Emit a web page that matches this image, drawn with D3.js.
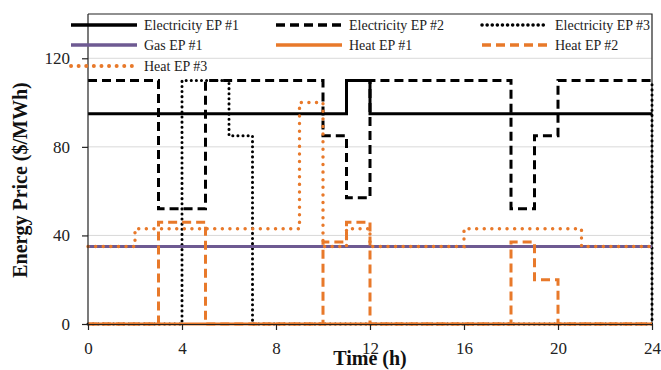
<!DOCTYPE html>
<html>
<head>
<meta charset="utf-8">
<script src="https://cdn.jsdelivr.net/npm/d3@7"></script>
<style>
  html, body { margin: 0; padding: 0; background: #fff; }
  svg { display: block; }
  svg text { font-family: "Liberation Serif", "Times New Roman", serif; }
</style>
</head>
<body>
<svg id="chart" width="661" height="370"></svg>
<script>
// Hourly energy prices ($/MWh); each value holds from its hour to the next one.
const hours = [0,1,2,3,4,5,6,7,8,9,10,11,12,13,14,15,16,17,18,19,20,21,22,23,24];

const electricityEP1 = [95,95,95,95,95,95,95,95,95,95,95,110,95,95,95,95,95,95,95,95,95,95,95,95,95];
const electricityEP2 = [110,110,110,52,52,110,110,110,110,110,85,57,110,110,110,110,110,110,52,85,110,110,110,110,110];
const electricityEP3 = [0,0,0,0,110,110,85,0,0,0,0,0,0,0,0,0,0,0,0,0,0,0,0,0,110];
const gasEP1         = [35,35,35,35,35,35,35,35,35,35,35,35,35,35,35,35,35,35,35,35,35,35,35,35,35];
const heatEP1        = [0,0,0,0,0,0,0,0,0,0,0,0,0,0,0,0,0,0,0,0,0,0,0,0,0];
const heatEP2        = [0,0,0,46,46,0,0,0,0,0,37,46,0,0,0,0,0,0,37,20,0,0,0,0,0];
const heatEP3        = [35,35,43,43,43,43,43,43,43,100,35,43,35,35,35,35,43,43,43,43,43,35,35,35,35];

const seriesNames = ["Electricity EP #1","Electricity EP #2","Electricity EP #3",
                     "Gas EP #1","Heat EP #1","Heat EP #2","Heat EP #3"];
const seriesValues = [electricityEP1, electricityEP2, electricityEP3, gasEP1, heatEP1, heatEP2, heatEP3];

const xTicks = [0,4,8,12,16,20,24];
const yTicks = [0,40,80,120];

const SERIF = "'Liberation Serif', 'Times New Roman', serif";

// Line styling per series
const BLACK = "#000000", ORANGE = "#E8792A", PURPLE = "#6E5A92";
const styles = [
  { color: BLACK,  width: 3,   dash: null,      cap: "butt"  },
  { color: BLACK,  width: 3,   dash: "9,5",     cap: "butt"  },
  { color: BLACK,  width: 3,   dash: "0.1,5",   cap: "round" },
  { color: PURPLE, width: 3,   dash: null,      cap: "butt"  },
  { color: ORANGE, width: 3,   dash: null,      cap: "butt"  },
  { color: ORANGE, width: 3,   dash: "9,5",     cap: "butt"  },
  { color: ORANGE, width: 3.4, dash: "0.1,7.5", cap: "round" }
];

const svg = d3.select("#chart");
const margin = { left: 88, right: 9, top: 14, bottom: 46 };
const W = 661, H = 370;

const x = d3.scaleLinear().domain([0, 24]).range([margin.left, W - margin.right]);
const y = d3.scaleLinear().domain([0, 140]).range([H - margin.bottom, margin.top]);

// Horizontal gridlines
svg.append("g").selectAll("line")
  .data(yTicks.filter(v => v > 0))
  .join("line")
  .attr("x1", x(0)).attr("x2", x(24))
  .attr("y1", d => y(d)).attr("y2", d => y(d))
  .attr("stroke", "#d9d9d9").attr("stroke-width", 1);

// Plot frame (top and right edges)
svg.append("path")
  .attr("d", `M${x(0)},${y(140)}H${x(24)}V${y(0)}`)
  .attr("fill", "none").attr("stroke", "#222").attr("stroke-width", 1.2);

// Series lines
const line = d3.line()
  .x((d, i) => x(hours[i]))
  .y(d => y(d))
  .curve(d3.curveStepAfter);

svg.append("g").selectAll("path")
  .data(seriesValues)
  .join("path")
  .attr("d", d => line(d))
  .attr("fill", "none")
  .attr("stroke", (d, i) => styles[i].color)
  .attr("stroke-width", (d, i) => styles[i].width)
  .attr("stroke-dasharray", (d, i) => styles[i].dash)
  .attr("stroke-linecap", (d, i) => styles[i].cap);

// Axes
const yAxis = svg.append("g")
  .attr("transform", `translate(${x(0)},0)`)
  .call(d3.axisLeft(y).tickValues(yTicks).tickSize(6).tickPadding(12).tickSizeOuter(0));
yAxis.select(".domain").attr("d", `M0,${y(0)}V${y(140)}`);

const xAxis = svg.append("g")
  .attr("transform", `translate(0,${y(0)})`)
  .call(d3.axisBottom(x).tickValues(xTicks).tickSize(6).tickPadding(12).tickSizeOuter(0));

[yAxis, xAxis].forEach(g => {
  g.attr("font-family", SERIF).attr("font-size", 17);
  g.select(".domain").attr("stroke", "#222").attr("stroke-width", 1.2);
  g.selectAll(".tick line").attr("stroke", "#222").attr("stroke-width", 1.2);
  g.selectAll("text").attr("font-family", SERIF).attr("font-size", 17).attr("fill", "#222");
});

// Axis titles
svg.append("text")
  .attr("x", 370).attr("y", 365)
  .attr("text-anchor", "middle")
  .attr("font-family", SERIF)
  .attr("font-size", 20).attr("font-weight", "bold").attr("fill", "#111")
  .text("Time (h)");

svg.append("text")
  .attr("transform", "translate(27,180) rotate(-90)")
  .attr("text-anchor", "middle")
  .attr("font-family", SERIF)
  .attr("font-size", 20).attr("font-weight", "bold").attr("fill", "#111")
  .text("Energy Price ($/MWh)");

// Legend: three columns, three rows
const legendCols = [71, 276, 482];
const legendRows = [25, 45, 66];
const legend = svg.append("g").selectAll("g")
  .data(seriesNames)
  .join("g")
  .attr("transform", (d, i) => `translate(${legendCols[i % 3]},${legendRows[Math.floor(i / 3)]})`);

legend.append("line")
  .attr("x1", 0).attr("x2", 66).attr("y1", 0).attr("y2", 0)
  .attr("stroke", (d, i) => styles[i].color)
  .attr("stroke-width", (d, i) => styles[i].width + 0.5)
  .attr("stroke-dasharray", (d, i) => styles[i].dash)
  .attr("stroke-linecap", (d, i) => styles[i].cap);

legend.append("text")
  .attr("x", 73).attr("y", 5)
  .attr("font-family", SERIF)
  .attr("font-size", 14).attr("fill", "#222")
  .text(d => d);
</script>
</body>
</html>
